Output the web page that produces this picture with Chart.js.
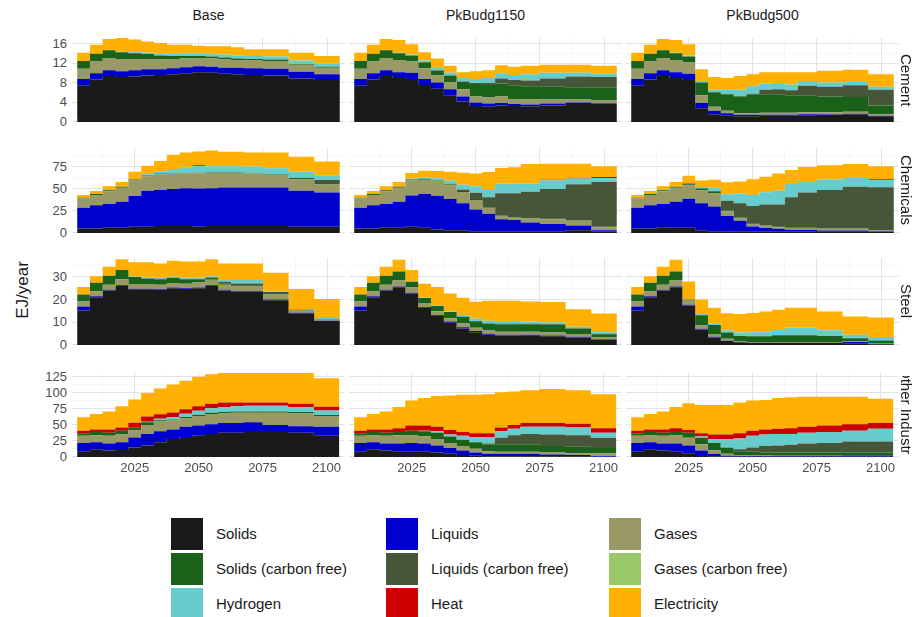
<!DOCTYPE html>
<html>
<head>
<meta charset="utf-8">
<script src="https://cdn.jsdelivr.net/npm/chart.js@4"></script>
<style>
  body { margin:0; width:919px; height:617px; background:#fff; font-family:"Liberation Sans", Arial, sans-serif; position:relative; overflow:hidden; }
  .panel { position:absolute; }
  .strip { position:absolute; font-size:14px; color:#1a1a1a; text-align:center; }
  .rstrip { position:absolute; width:20px; overflow:hidden; display:flex; flex-direction:column; justify-content:center; align-items:center; font-size:15px; color:#1a1a1a; }
  .rstrip span { writing-mode:vertical-rl; white-space:nowrap; }
  .ytick { position:absolute; width:40px; text-align:right; font-size:13px; color:#4d4d4d; line-height:14px; }
  .leg { position:absolute; font-size:15px; color:#1a1a1a; }
  .sw { position:absolute; width:32px; height:32px; }
</style>
</head>
<body>
<div id="root"></div>
<script>
// ---- data ----
const years = [2005,2010,2015,2020,2025,2030,2035,2040,2045,2050,2055,2060,2065,2070,2080,2090,2100];
const scenarios = ['Base', 'PkBudg1150', 'PkBudg500'];
const sectors = ['Cement', 'Chemicals', 'Steel', 'Other Industry'];
const carriers = ['Solids','Liquids','Gases','Solids (carbon free)','Liquids (carbon free)','Gases (carbon free)','Hydrogen','Heat','Electricity'];
const colors = ['#1a1a1a','#0000cc','#999966','#1a611a','#475539','#99c966','#66cccc','#cc0000','#ffb000'];
const none = [0,0,0,0,0,0,0,0,0,0,0,0,0,0,0,0,0];

// rows: carriers in the order above
const cementBase = [
  [7.4,8.7,9.4,9.2,9.3,9.5,9.6,9.8,10,10.2,10.1,9.9,9.8,9.6,9.5,8.9,8.6],
  [1.4,1.3,1.2,1.2,1.3,1.3,1.2,1.2,1.2,1.2,1.2,1.2,1.3,1.4,1.4,1.4,1.2],
  [2.1,2.4,2.5,2.5,2.3,2.1,2.0,1.9,1.8,1.7,1.7,1.7,1.6,1.6,1.6,1.4,1.3],
  [1.6,1.6,1.6,1.4,1.2,1.0,0.8,0.6,0.5,0.4,0.4,0.4,0.3,0.3,0.3,0.2,0.2],
  none, none,
  [0,0,0,0.1,0.2,0.3,0.4,0.5,0.6,0.6,0.6,0.6,0.6,0.6,0.6,0.7,0.7],
  none,
  [1.7,1.8,2.3,2.8,2.6,2.3,2.2,1.8,1.7,1.5,1.5,1.7,1.7,1.4,1.5,1.6,1.5]
];
const cement1150 = [
  [7.4,8.7,9.4,9.0,8.8,7.6,6.8,5.5,4.2,3.3,3.1,3.4,3.3,3.2,3.4,3.7,3.8],
  [1.4,1.3,1.2,1.2,1.3,1.2,1.3,1.2,1.0,0.7,0.7,0.5,0.4,0.4,0.4,0.3,0.1],
  [2.1,2.4,2.5,2.5,2.3,2.2,1.4,1.5,1.5,1.2,1.2,1.3,1.0,1.0,0.8,0.6,0.6],
  [1.6,1.6,1.6,1.4,1.2,1.2,1.0,1.2,1.5,2.6,2.6,2.7,2.7,2.7,2.6,2.5,2.5],
  [0,0,0,0,0,0.1,0.1,0.1,0.1,0.2,0.4,1.0,1.2,1.2,1.7,2.2,2.2],
  none,
  [0,0,0,0.1,0.2,0.3,0.5,0.6,0.7,0.8,1.0,1.1,1.0,1.3,1.2,0.8,0.7],
  none,
  [1.7,1.8,2.3,2.6,2.1,1.7,1.9,1.4,1.2,1.6,1.6,1.6,1.7,1.7,1.6,1.6,1.6]
];
const cement500 = [
  [7.4,8.7,9.4,9.0,8.6,2.8,1.6,1.3,1.2,1.2,1.3,1.3,1.3,1.4,1.5,1.6,1.2],
  [1.4,1.3,1.2,1.2,1.3,1.1,0.7,0.5,0.3,0.3,0.2,0.2,0.2,0.2,0.1,0.1,0.1],
  [2.1,2.4,2.5,2.5,2.3,1.6,0.8,0.5,0.3,0.3,0.4,0.4,0.4,0.4,0.4,0.4,0.3],
  [1.6,1.6,1.6,1.4,1.2,2.6,3.0,3.4,3.4,3.8,3.8,3.8,3.6,3.4,3.2,3.0,1.8],
  [0,0,0,0,0,0,0,0,0.1,0.2,0.9,1.0,1.0,2.0,2.0,2.4,3.2],
  none,
  [0,0,0,0.1,0.2,0.3,0.5,1.0,1.3,1.5,1.3,1.3,1.2,1.0,0.9,0.7,0.6],
  none,
  [1.7,1.8,2.3,2.6,2.3,2.4,2.6,2.3,2.8,2.5,2.3,2.2,2.5,1.8,2.4,2.5,2.6]
];
const chemBase = [
  [5,5,6.5,6,7,7,8,8,8,7,8,8,8,8,8,7,7],
  [23.7,26.4,26.4,29.6,35.1,41,41,41.9,42.8,43.7,42.8,43.7,43.7,43.7,43.7,41,39.1],
  [10.5,11.8,14.6,15.9,17.7,16.4,17.7,17.7,16.8,17.3,17.3,16.4,16.4,15.9,14.1,13.2,9.1],
  [1,1,1,1,1,1,0.8,0.7,0.6,0.6,0.6,0.6,0.6,0.6,0.6,1.2,0.5],
  [0,0,0,0,0,0,0,0,0,0,0,0,0,0,0,0,4.5],
  none,
  [0,0,0,0,0,1.4,2.7,4.5,6.4,7.3,7.3,7.3,7.3,7.3,7.3,7.3,5.5],
  [0,0,0,0,0,0,0,0,0,1,0,0,0,0,0,0,0],
  [3,3.5,4.6,5.5,8.7,9.6,11.6,16,17,15.8,17.7,16.4,16.4,16.1,17.9,16.9,15.5]
];
const chem1150 = [
  [5,5,6.5,6,7,6,4,3,3,2,2,2,2,2,2,3,2],
  [23.7,26.4,26.4,29.6,35.5,38.2,38.2,35.5,30.9,24.6,20,13.7,12.7,10,8.2,5.5,1],
  [10.5,11.8,14.6,15.9,17.3,16.4,16.4,15.5,12.7,10.9,6.4,3.6,2.7,4.5,5.5,5.5,3.6],
  [1,1,1,1,1,1,1,1,1,1,0.5,0.5,0.5,0.5,0.5,0.5,0.5],
  [0,0,0,0,0,0,0,0.9,1.8,7.3,11.8,25.5,27.3,30,33.7,41,51],
  none,
  [0,0,0,0,0.9,1.8,2.7,3.6,5.5,7.3,8.2,10.9,10.9,9.1,10,6.4,4.5],
  [0,0,0,0,0,0,0,0,0,0,0,0,0,0,0.5,0.5,1],
  [3,3.5,4.6,5.5,6.4,7.3,8.2,10,13.7,14.6,20.5,17.7,18.7,22.3,18.2,16.4,12.3]
];
const chem500 = [
  [5,5,6.5,6,6,3,2,2,1.5,1.5,1.5,1.5,1.5,1.5,1.5,1.5,1.5],
  [23.7,26.4,26.4,29.6,32.8,30.9,28.2,17.3,12.3,5.9,4.1,3.2,2.3,2.3,1.4,1.4,0.5],
  [10.5,11.8,14.6,15.9,15.5,14.6,14.6,5.5,2.7,2.7,2.7,1.8,1.8,1.8,1.8,1.8,0.9],
  [1,1,1,1,1,2,2,1,1,0.5,0.5,0.5,0.5,0.5,0.5,0.5,0],
  [0,0,0,0,0,0,0.9,10.9,16.4,20,23.7,25.5,34.6,40,43.7,47.3,49.1],
  none,
  [0,0,0,0,0,1.8,3.6,7.3,10.9,12.7,13.7,15.5,16,13,12,10,8],
  [0,0,0,0,1,0,0,0,0,0,0,0,0,0,0,0,1],
  [3,3.5,4.6,5.5,8.7,7.3,9.1,13.7,13.7,17.7,17.7,19.6,15,16,16,16,15]
];
const steelBase = [
  [15.2,21,24,26,24.5,24.5,24.2,25,24.7,25,26,24,23.5,23.5,19.7,14,10.6],
  [1.7,0.5,0.3,0.3,0.3,0.3,0.3,0.3,0.3,0.3,0.3,0.3,0.3,0.3,0.3,0.2,0.1],
  [2.3,2.2,2.2,2.7,2.1,2.0,2.0,2.0,2.0,2.2,2.4,2.2,2.2,2.2,2.2,1.2,0.8],
  [3,3.7,4,4,3,2.5,2.5,2.3,2,1.5,1.0,0.5,0.3,0.3,0.3,0.1,0],
  [0,0,0,0,0,0,0,0,0,0,0,0.8,0.8,0.8,0.8,0,0],
  none,
  [0,0,0,0,0.3,0.4,0.5,0.5,0.6,0.6,0.6,0.8,1.5,1.5,0.3,0.4,0.4],
  none,
  [3.3,2.9,4,4.8,6.2,6.7,6.4,7,7.2,7.2,7.5,7.3,7.3,7.3,8.2,8.8,8.3]
];
const steel1150 = [
  [15.2,21,24,25.4,22.7,16.4,12.9,9.8,7.3,5.6,4.5,4.2,4.2,4.1,3.8,3.3,2.3],
  [1.7,0.5,0.3,0.3,0.3,0.3,0.3,0.5,0.5,0.6,0.4,0.3,0.3,0.4,0.4,0.3,0.2],
  [2.3,2.2,2.2,2.7,2.3,1.8,1.7,1.5,1.7,1.4,1.5,1.3,1.3,1.3,1.3,1.2,1.0],
  [3,3.7,4,4,2.5,2.2,2.3,2.7,2.9,2.9,3.1,3.3,3.3,3.3,3.3,2.3,1.2],
  [0,0,0,0,0,0,0,0,0,0,0,0.3,0.3,0.3,0.3,0.3,0.3],
  none,
  [0,0,0,0,0.2,0.2,0.3,0.3,0.8,1.2,1.2,1.2,1.2,1.0,0.8,0.6,0.6],
  none,
  [3.3,2.9,4,5.1,5,6.1,8,7.9,7.6,7.3,8.8,8.9,8.9,8.8,9,7.7,8.3]
];
const steel500 = [
  [15.2,21,24,25.4,17.4,6.8,3.3,1.8,1.2,1,1,1,1,1,1,0.8,0.3],
  [1.7,0.5,0.3,0.3,0.3,0.3,0.3,0.1,0,0,0,0,0,0,0,0.5,0.3],
  [2.3,2.2,2.2,2.7,2.3,1.5,1.2,0.8,0.3,0.3,0.3,0.3,0.3,0.3,0.3,0.2,0.2],
  [3,3.7,4,4,0.3,4.5,4,2.8,2.5,2.5,2.5,2.8,2.8,2.8,2.7,1.5,1.2],
  [0,0,0,0,0,0,0,0,0,0,0,0.3,0.3,0.3,0,0,0],
  none,
  [0,0,0,0,0,0.5,0.8,1.0,1.5,1.8,1.8,2.2,3.3,3.3,2.5,1.5,1.5],
  none,
  [3.3,2.9,4,5.1,7.7,6.4,6.8,7.5,8.1,8.5,9.1,8.9,8.7,8.7,8.3,8.1,8.6]
];
const otherBase = [
  [8,12,10,11,15,18,23,28,31,33,36,38,38,39,39,38,34],
  [14,11,11,12,15.5,18,17,15,16,16,15,15,15,15,11,10,13],
  [11,11,12,12,11,14,15.5,14,14,15,16,15,16,15,19,20,17],
  [4,5,5,6,5,4,2,1.5,1.5,2,2,2,2,2,2,2,1.5],
  none, none,
  [0,0,0,0,0,1,2,4,5,6,7,8,8,9,9,8,7],
  [4,4,5,5,7,8,7,7,7,7,7,7,6,5,5,5,6],
  [21,24,28,33,36,37,40.5,43.5,44.5,46,46,47,49,50,49,49,44.5]
];
const other1150 = [
  [8,12,10,9,9,8,7,5,3,2,1,1,1,1,1,1,0],
  [14,11,11,12,13,13,11,9,7,5,4,4,4,4,3,2,1],
  [11,11,12,13,12,11,10,8,7,6,4,3,3,3,3,3,5],
  [4,5,5,5,7,8,10,10,10,10,10,12,12,12,10,10,8],
  [0,0,0,0,0,0,0,0,0,0,2,10,14,16,18,18,16],
  none,
  [0,0,0,0,0,1,2,3,6,8,10,10,10,11,12,12,8],
  [4,4,5,6,8,8,7,7,6,6,6,6,6,6,6,6,7],
  [21,24,28,33,39,43,48,54,58,60,61,55,52,51,53,52,53]
];
const other500 = [
  [8,12,10,9,6,3,1,0.5,0.5,0.5,0.5,0.5,0.5,0.5,0.5,0.5,0.5],
  [14,11,11,12,12,7,4,1.5,1,1,1,1,1,1,1,1.5,1.5],
  [11,11,12,13,12,10,5,3,1.5,1.5,1.5,0.5,0.5,0.5,0.5,0,0],
  [4,5,5,5,8,10,12,9,6,5,4,5,5,5,5,5,5],
  [0,0,0,0,0,0,0,1,3,7,10,11,12,14,15,17,17],
  none,
  [0,0,0,0,0,2,6,13,17,18,18,18,17,17,17,17,20],
  [4,4,5,6,4,5,7,7,8,8,8,8,9,9,10,10,9],
  [21,24,28,33,42,44,46,46,48,47,46,48,48,47,45,43,38]
];

const panels = [
  [cementBase, cement1150, cement500],
  [chemBase, chem1150, chem500],
  [steelBase, steel1150, steel500],
  [otherBase, other1150, other500]
];
const yMax = [17.2, 96.6, 38.3, 131];
const yGrid = [
  [0,2,4,6,8,10,12,14,16],
  [0,12.5,25,37.5,50,62.5,75,87.5],
  [0,5,10,15,20,25,30,35],
  [0,12.5,25,37.5,50,62.5,75,87.5,100,112.5,125]
];
const yLabelEvery = [4, 25, 10, 25];
const xGrid = [2012.5,2025,2037.5,2050,2062.5,2075,2087.5,2100];

// ---- layout ----
const colLeft = [72, 349, 626];
const colW = 273;
const rowTop = [38, 148, 258, 373];
const rowH = [84, 85, 87, 84];
const xAxisH = 26;

// period edges: halfway between periods, half a step at the ends
const edges = [years[0] - 2.5];
for (let i = 0; i < years.length - 1; i++) edges.push((years[i] + years[i + 1]) / 2);
edges.push(years[years.length - 1] + 5);

const root = document.getElementById('root');
const tickFont = { family: '"Liberation Sans", Arial, sans-serif', size: 13 };
const majorX = v => v % 25 === 0;

function stepPoints(cum) {
  const pts = [];
  cum.forEach((v, i) => { pts.push({ x: edges[i], y: v }); pts.push({ x: edges[i + 1], y: v }); });
  return pts;
}

panels.forEach((row, r) => {
  const majorY = v => v % yLabelEvery[r] === 0;
  row.forEach((series, c) => {
    const bottom = r === 3;
    const div = document.createElement('div');
    div.className = 'panel';
    const h = rowH[r] + (bottom ? xAxisH : 0);
    div.style.cssText = `left:${colLeft[c]}px;top:${rowTop[r]}px;width:${colW}px;height:${h}px;`;
    const cv = document.createElement('canvas');
    div.appendChild(cv);
    root.appendChild(div);

    let running = new Array(years.length).fill(0);
    const datasets = series.map((vals, k) => {
      running = running.map((v, i) => v + vals[i]);
      return {
        label: carriers[k],
        data: stepPoints(running),
        borderWidth: 0,
        pointRadius: 0,
        backgroundColor: colors[k],
        fill: k === 0 ? 'origin' : '-1'
      };
    });

    new Chart(cv, {
      type: 'line',
      data: { datasets },
      options: {
        animation: false,
        responsive: true,
        maintainAspectRatio: false,
        layout: { padding: 0 },
        plugins: { legend: { display: false }, tooltip: { enabled: false } },
        scales: {
          x: {
            type: 'linear', min: 2000.5, max: 2107,
            border: { display: false },
            grid: { drawTicks: false, color: ctx => ctx.tick && majorX(ctx.tick.value) ? '#e3e3e3' : '#f0f0f0', lineWidth: ctx => ctx.tick && majorX(ctx.tick.value) ? 1.1 : 0.6 },
            afterBuildTicks: s => { s.ticks = xGrid.map(v => ({ value: v })); },
            ticks: { display: bottom, autoSkip: false, maxRotation: 0, color: '#4d4d4d', font: tickFont, padding: 4,
              callback: v => majorX(v) ? String(v) : '' },
            afterFit: s => { s.height = bottom ? xAxisH : 0; }
          },
          y: {
            min: 0, max: yMax[r],
            border: { display: false },
            grid: { drawTicks: false, color: ctx => ctx.tick && majorY(ctx.tick.value) ? '#e3e3e3' : '#f0f0f0', lineWidth: ctx => ctx.tick && majorY(ctx.tick.value) ? 1.1 : 0.6 },
            afterBuildTicks: s => { s.ticks = yGrid[r].map(v => ({ value: v })); },
            ticks: { display: false },
            afterFit: s => { s.width = 0; }
          }
        }
      }
    });
  });

  // y tick labels for the row, placed along the same value range
  yGrid[r].filter(majorY).forEach(v => {
    const t = document.createElement('div');
    t.className = 'ytick';
    t.style.left = '27px';
    t.style.top = (rowTop[r] + rowH[r] * (1 - v / yMax[r]) - 7) + 'px';
    t.textContent = v;
    root.appendChild(t);
  });
});

// strips
scenarios.forEach((s, c) => {
  const d = document.createElement('div');
  d.className = 'strip';
  d.style.cssText = `left:${colLeft[c]}px;top:7px;width:${colW}px;`;
  d.textContent = s;
  root.appendChild(d);
});
sectors.forEach((s, r) => {
  const d = document.createElement('div');
  d.className = 'rstrip';
  d.style.cssText = `left:896px;top:${rowTop[r] + 3}px;height:${rowH[r] - 6}px;`;
  d.innerHTML = `<span>${s}</span>`;
  root.appendChild(d);
});
const yt = document.createElement('div');
yt.style.cssText = 'position:absolute;left:-12px;top:280px;width:70px;text-align:center;font-size:17px;color:#1a1a1a;transform:rotate(-90deg);';
yt.textContent = 'EJ/year';
root.appendChild(yt);

// legend, three columns filled row by row
const legX = [171, 386, 609], legY = [518, 553, 588];
carriers.forEach((name, k) => {
  const col = k % 3, rw = Math.floor(k / 3);
  const sw = document.createElement('div');
  sw.className = 'sw';
  sw.style.cssText = `left:${legX[col]}px;top:${legY[rw]}px;background:${colors[k]};`;
  root.appendChild(sw);
  const t = document.createElement('div');
  t.className = 'leg';
  t.style.cssText = `left:${legX[col] + 45}px;top:${legY[rw] + 7}px;`;
  t.textContent = name;
  root.appendChild(t);
});
</script>
</body>
</html>
